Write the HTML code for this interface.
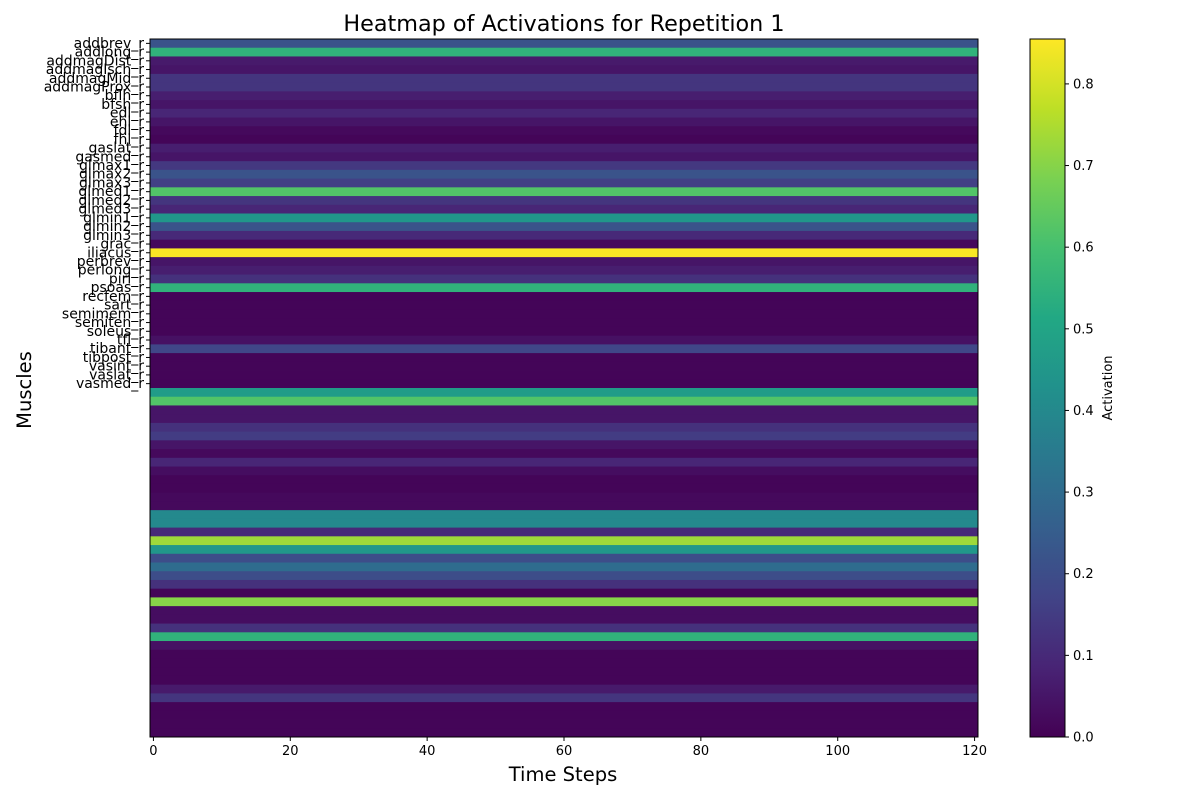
<!DOCTYPE html>
<html><head><meta charset="utf-8"><style>
body{margin:0;background:#fff;font-family:"Liberation Sans","DejaVu Sans",sans-serif}
svg text{font-family:"DejaVu Sans","Liberation Sans",sans-serif}
</style></head><body>
<svg id="chart" width="1200" height="800" xmlns="http://www.w3.org/2000/svg">
<text x="564" y="31" font-size="22.3" text-anchor="middle">Heatmap of Activations for Repetition 1</text>
<text x="563" y="781" font-size="19.5" text-anchor="middle">Time Steps</text>
<text x="31" y="390" font-size="19.5" text-anchor="middle" transform="rotate(-90 31 390)">Muscles</text>
<text x="1112" y="388" font-size="13" text-anchor="middle" transform="rotate(-90 1112 388)">Activation</text>
<g id="cells"></g><g id="axes"></g>
</svg>
<script>
const muscleLabels=["addbrev_r","addlong_r","addmagDist_r","addmagIsch_r","addmagMid_r","addmagProx_r","bflh_r","bfsh_r","edl_r","ehl_r","fdl_r","fhl_r","gaslat_r","gasmed_r","glmax1_r","glmax2_r","glmax3_r","glmed1_r","glmed2_r","glmed3_r","glmin1_r","glmin2_r","glmin3_r","grac_r","iliacus_r","perbrev_r","perlong_r","piri_r","psoas_r","recfem_r","sart_r","semimem_r","semiten_r","soleus_r","tfl_r","tibant_r","tibpost_r","vasint_r","vaslat_r","vasmed_r"];
const rowValues=[0.22,0.55,0.06,0.05,0.13,0.13,0.07,0.05,0.09,0.05,0.02,0.01,0.07,0.05,0.14,0.22,0.16,0.62,0.13,0.09,0.45,0.22,0.1,0.02,0.85,0.05,0.07,0.12,0.55,0.01,0.01,0.01,0.01,0.01,0.04,0.18,0.01,0.01,0.01,0.01,
0.47,0.62,0.05,0.05,0.12,0.15,0.05,0.02,0.09,0.03,0.01,0.01,0.02,0.02,0.4,0.4,0.1,0.73,0.45,0.2,0.3,0.2,0.12,0.01,0.7,0.03,0.03,0.12,0.55,0.04,0.01,0.01,0.01,0.01,0.06,0.13,0.01,0.01,0.01,0.01];
const xTicks=[0,20,40,60,80,100,120];
const cbTicks=[0.0,0.1,0.2,0.3,0.4,0.5,0.6,0.7,0.8];
const nSteps=121, vmax=0.855;
const L=150,R=978,T=39,B=737;
const NS="http://www.w3.org/2000/svg";
const rowH=(B-T)/rowValues.length;
const xs=v=>L+(v+0.5)*(R-L)/nSteps;
const ys=i=>T+i*rowH;
const vir=["#440154","#482475","#414487","#355f8d","#2a788e","#21918c","#22a884","#44bf70","#7ad151","#bddf26","#fde725"];
function hex(h){return [1,3,5].map(i=>parseInt(h.substr(i,2),16));}
function color(v){let t=Math.max(0,Math.min(1,v/vmax))*10;let i=Math.min(9,Math.floor(t));let f=t-i;let a=hex(vir[i]),b=hex(vir[i+1]);return "rgb("+a.map((c,k)=>Math.round(c+(b[k]-c)*f)).join(",")+")";}
function mk(tag,attrs,parent){const e=document.createElementNS(NS,tag);for(const k in attrs)e.setAttribute(k,attrs[k]);parent.appendChild(e);return e;}
const cells=document.getElementById('cells'),axes=document.getElementById('axes');
rowValues.forEach((v,i)=>{
 const r=mk('rect',{x:L,y:ys(i),width:R-L,height:rowH+0.4,fill:color(v)},cells);
 
 
});
const frame=mk('rect',{x:L,y:T,width:R-L,height:B-T,fill:'none',stroke:'#000','stroke-width':1},axes);


muscleLabels.forEach((m,i)=>{
 const y=ys(i)+rowH/2;
 mk('line',{x1:L-4,x2:L,y1:y,y2:y,stroke:'#000'},axes);
 const t=mk('text',{x:L-6,y:y+4.5,'font-size':14,'text-anchor':'end'},axes);
 t.textContent=m;
 
 
});
xTicks.forEach(v=>{
 const x=xs(v);
 mk('line',{x1:x,x2:x,y1:B,y2:B+4,stroke:'#000'},axes);
 const t=mk('text',{x:x,y:B+18,'font-size':13,'text-anchor':'middle'},axes);
 t.textContent=v;
 
 
});
const cbL=1030,cbR=1065;
const defs=mk('defs',{},axes);
const g=mk('linearGradient',{id:'vg',x1:0,y1:1,x2:0,y2:0},defs);
vir.forEach((c,i)=>mk('stop',{offset:(i/10),'stop-color':c},g));
const cb=mk('rect',{x:cbL,y:T,width:cbR-cbL,height:B-T,fill:'url(#vg)',stroke:'#000'},axes);


cbTicks.forEach(v=>{
 const y=B-v/vmax*(B-T);
 mk('line',{x1:cbR,x2:cbR+4,y1:y,y2:y,stroke:'#000'},axes);
 const t=mk('text',{x:cbR+8,y:y+4.5,'font-size':13},axes);
 t.textContent=v.toFixed(1);
 
 
});
</script>
</body></html>
